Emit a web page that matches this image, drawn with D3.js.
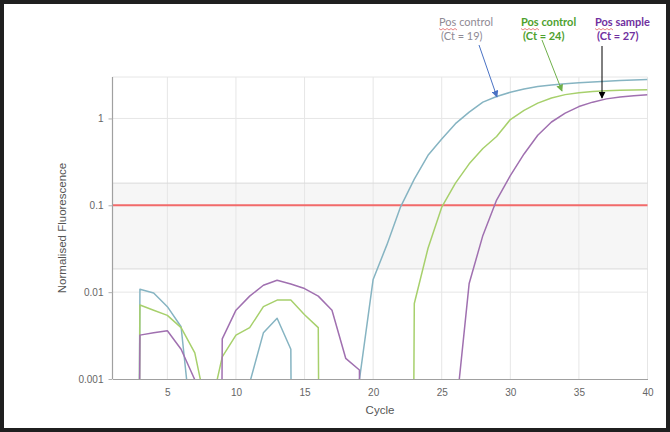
<!DOCTYPE html>
<html>
<head>
<meta charset="utf-8">
<script src="https://cdn.jsdelivr.net/npm/d3@7"></script>
<style>
  html, body { margin: 0; padding: 0; background: #1f1f1f; }
  svg { display: block; }
</style>
</head>
<body>
<svg id="chart" width="670" height="432"></svg>
<script>
// ---- data ----
const cycles = d3.range(1, 41);
const xTicks = [5, 10, 15, 20, 25, 30, 35, 40];
const yTicks = [0.001, 0.01, 0.1, 1];
const yTickLabels = ["0.001", "0.01", "0.1", "1"];
const threshold = 0.1;
const bandLow = 0.0185;
const bandHigh = 0.18;
// fluorescence per cycle (0 = nothing detected)
const posControl19 = [0, 0, 0.0108, 0.0098, 0.0068, 0.0040, 0.000125, 0, 0, 0,
  0.0009, 0.0034, 0.0050, 0.0022, 0, 0, 0, 0, 0.00098, 0.014,
  0.035, 0.096, 0.20, 0.376, 0.58, 0.87, 1.18, 1.54, 1.79, 2.0,
  2.18, 2.33, 2.43, 2.51, 2.57, 2.63, 2.68, 2.73, 2.77, 2.81];
const posControl24 = [0, 0, 0.0071, 0.0062, 0.0054, 0.0039, 0.0020, 0.00035, 0.0018, 0.0032,
  0.0039, 0.0068, 0.0081, 0.0081, 0.0055, 0.0039, 0, 0, 0, 0,
  0, 0, 0.0074, 0.032, 0.095, 0.18, 0.30, 0.45, 0.62, 0.97,
  1.24, 1.50, 1.72, 1.88, 1.98, 2.04, 2.08, 2.11, 2.13, 2.14];
const posSample27 = [0, 0, 0.0032, 0.0034, 0.0036, 0.0022, 0.00098, 0, 0.0029, 0.0062,
  0.0090, 0.012, 0.0137, 0.0124, 0.011, 0.0090, 0.0062, 0.00173, 0.00127, 0,
  0, 0, 0, 0, 0, 0.00037, 0.0126, 0.045, 0.115, 0.22,
  0.39, 0.64, 0.91, 1.15, 1.37, 1.54, 1.68, 1.76, 1.82, 1.87];
const seriesNames = ["Pos control", "Pos control", "Pos sample"];
const seriesCt = ["(Ct = 19)", "(Ct = 24)", "(Ct = 27)"];

const series = [
  { values: posControl19, color: "#86b4c2", text: "#8f8a94", weight: 400 },
  { values: posControl24, color: "#a7d06c", text: "#4ea12e", weight: 700 },
  { values: posSample27, color: "#a070b0", text: "#7030a0", weight: 700 }
];

// ---- layout ----
const svg = d3.select("#chart");
svg.append("rect").attr("x", 4).attr("y", 4).attr("width", 662).attr("height", 424).attr("fill", "#fff");

const x = d3.scaleLinear().domain([1, 40]).range([112.5, 647.5]);
const y = d3.scaleLog().domain([0.001, 3]).range([379, 77]);
const pTop = y.range()[1], pBottom = y.range()[0];
const pLeft = x.range()[0], pRight = x.range()[1];

// band
svg.append("rect")
  .attr("x", pLeft).attr("width", pRight - pLeft)
  .attr("y", y(bandHigh)).attr("height", y(bandLow) - y(bandHigh))
  .attr("fill", "#f6f6f6");

// gridlines
const grid = svg.append("g").attr("stroke", "#e6e6e6").attr("stroke-width", 1);
xTicks.forEach(t => grid.append("line").attr("x1", x(t)).attr("x2", x(t)).attr("y1", pTop).attr("y2", pBottom));
[...yTicks.slice(1), 3].forEach(t => grid.append("line").attr("x1", pLeft).attr("x2", pRight).attr("y1", y(t)).attr("y2", y(t)));
[bandLow, bandHigh].forEach(t => grid.append("line").attr("stroke", "#dadada").attr("x1", pLeft).attr("x2", pRight).attr("y1", y(t)).attr("y2", y(t)));

// threshold
svg.append("line").attr("x1", pLeft).attr("x2", pRight).attr("y1", y(threshold)).attr("y2", y(threshold))
  .attr("stroke", "#f26a6a").attr("stroke-width", 2);

// axes
const xAxis = d3.axisBottom(x).tickValues(xTicks).tickSize(0).tickPadding(10);
const gx = svg.append("g").attr("transform", `translate(0,${pBottom})`).call(xAxis);
gx.select(".domain").attr("stroke", "#a0a0a0").attr("stroke-width", 1.2);
gx.selectAll("text").attr("fill", "#666").style("font", "10px 'Liberation Sans', Arial, sans-serif");

const yAxis = d3.axisLeft(y).tickValues(yTicks).tickFormat((d, i) => yTickLabels[i]).tickSize(4).tickPadding(5);
const gy = svg.append("g").attr("transform", `translate(${pLeft},0)`).call(yAxis);
gy.select(".domain").attr("stroke", "#a0a0a0").attr("stroke-width", 1.2).attr("d", `M0,${pTop}V${pBottom}`);
gy.selectAll(".tick line").attr("stroke", "#b0b0b0");
gy.selectAll("text").attr("fill", "#666").style("font", "10px 'Liberation Sans', Arial, sans-serif");

svg.append("text").attr("x", 380).attr("y", 414).attr("text-anchor", "middle")
  .attr("fill", "#555").style("font", "11.5px 'Liberation Sans', Arial, sans-serif").text("Cycle");
svg.append("text").attr("transform", "translate(66,228) rotate(-90)").attr("text-anchor", "middle")
  .attr("fill", "#555").style("font", "11.5px 'Liberation Sans', Arial, sans-serif").text("Normalised Fluorescence");

// curves
svg.append("clipPath").attr("id", "plotclip").append("rect")
  .attr("x", pLeft).attr("y", pTop).attr("width", pRight - pLeft).attr("height", pBottom - pTop);
const line = d3.line()
  .x((d, i) => x(cycles[i]))
  .y(d => y(Math.max(d, 1e-30)));
const curves = svg.append("g").attr("clip-path", "url(#plotclip)");
series.forEach(s => {
  curves.append("path").attr("d", line(s.values)).attr("fill", "none")
    .attr("stroke", s.color).attr("stroke-width", 1.5).attr("stroke-linejoin", "round");
});

// annotations
const labelX = [439, 521, 595];
const arrows = [
  { x1: 479, y1: 45, x2: 497, y2: 97, c: "#4a72c4" },
  { x1: 542, y1: 40, x2: 562, y2: 91, c: "#6fb04a" },
  { x1: 602, y1: 46, x2: 602, y2: 98, c: "#000" }
];
const defs = svg.append("defs");
arrows.forEach((a, i) => {
  defs.append("marker").attr("id", "ah" + i).attr("viewBox", "0 0 10 10").attr("refX", 9).attr("refY", 5)
    .attr("markerWidth", 7).attr("markerHeight", 7).attr("markerUnits", "userSpaceOnUse").attr("orient", "auto")
    .append("path").attr("d", "M0,0L10,5L0,10Z").attr("fill", a.c);
  svg.append("line").attr("x1", a.x1).attr("y1", a.y1).attr("x2", a.x2).attr("y2", a.y2)
    .attr("stroke", a.c).attr("stroke-width", 1).attr("marker-end", `url(#ah${i})`);
});
series.forEach((s, i) => {
  svg.append("text").attr("x", labelX[i]).attr("y", 26)
    .attr("fill", s.text).style("font", `${s.weight} 11px Lato, 'Open Sans', sans-serif`).text(seriesNames[i]);
  svg.append("text").attr("x", labelX[i] + 2).attr("y", 40)
    .attr("fill", s.text).style("font", `${s.weight} 11px Lato, 'Open Sans', sans-serif`).text(seriesCt[i]);
  // spell-check squiggle under "Pos"
  let d = `M${labelX[i]},28.5`;
  for (let k = 1; k <= 9; k++) d += `L${labelX[i] + k * 2},${k % 2 ? 30 : 28.5}`;
  svg.append("path").attr("d", d).attr("fill", "none").attr("stroke", "#e05050").attr("stroke-width", 0.7);
});
</script>
</body>
</html>
